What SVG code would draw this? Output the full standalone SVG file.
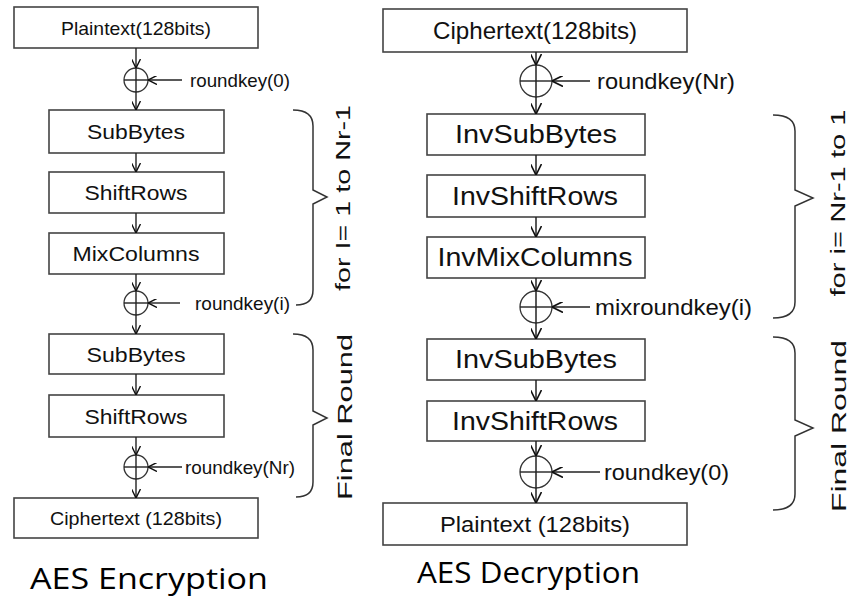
<svg xmlns="http://www.w3.org/2000/svg" width="852" height="597" viewBox="0 0 852 597">
<defs>
<marker id="a" viewBox="0 0 10 10" refX="10" refY="5" markerWidth="9" markerHeight="9" markerUnits="userSpaceOnUse" orient="auto"><path d="M0,0 L10,5 L0,10" fill="none" stroke="#111" stroke-width="1.6"/></marker>
<marker id="b" viewBox="0 0 10 10" refX="10" refY="5" markerWidth="11" markerHeight="11" markerUnits="userSpaceOnUse" orient="auto"><path d="M0,0 L10,5 L0,10" fill="none" stroke="#111" stroke-width="1.5"/></marker>
</defs>
<style>
.box{fill:#fff;stroke:#444;stroke-width:1.6}
.t{font-family:"Liberation Sans",Arial,sans-serif;fill:#111;text-anchor:middle}
.l{font-size:21px}
.r{font-size:25px}
.k{font-family:"Liberation Sans",Arial,sans-serif;fill:#111}
.kl{font-size:19px}
.kr{font-size:22px}
.c{stroke:#222;stroke-width:1.4;fill:none}
.ca{stroke:#222;stroke-width:1.4;fill:none;marker-end:url(#a)}
.cb{stroke:#222;stroke-width:1.5;fill:none;marker-end:url(#b)}
.xor{fill:none;stroke:#333;stroke-width:1.3}
.br{fill:none;stroke:#333;stroke-width:1.5}
.rot{font-family:"Liberation Sans",Arial,sans-serif;fill:#111;text-anchor:middle;font-size:21px}
.title{font-family:"Open Sans","Noto Sans",sans-serif;fill:#000;font-size:29px}
</style>

<!-- Encryption -->
<g id="enc-plaintext"><rect class="box" x="14" y="7" width="244" height="41"/><text class="t" x="136" y="35" style="font-size:19px" textLength="150" lengthAdjust="spacingAndGlyphs">Plaintext(128bits)</text></g>
<g id="enc-xor0"><circle class="xor" cx="136" cy="80" r="12"/><line class="c" x1="124" y1="80" x2="148" y2="80"/><text class="k kl" x="190" y="87" textLength="100" lengthAdjust="spacingAndGlyphs">roundkey(0)</text></g>
<g id="enc-subbytes1"><rect class="box" x="49" y="110" width="175" height="43"/><text class="t l" x="136" y="139" textLength="98" lengthAdjust="spacingAndGlyphs">SubBytes</text></g>
<g id="enc-shiftrows1"><rect class="box" x="49" y="172" width="175" height="41"/><text class="t l" x="136" y="200" textLength="103" lengthAdjust="spacingAndGlyphs">ShiftRows</text></g>
<g id="enc-mixcolumns"><rect class="box" x="49" y="233" width="175" height="41"/><text class="t l" x="136" y="261" textLength="127" lengthAdjust="spacingAndGlyphs">MixColumns</text></g>
<g id="enc-xori"><circle class="xor" cx="136" cy="303" r="12"/><line class="c" x1="124" y1="303" x2="148" y2="303"/><text class="k kl" x="195" y="310" textLength="95" lengthAdjust="spacingAndGlyphs">roundkey(i)</text></g>
<g id="enc-subbytes2"><rect class="box" x="49" y="334" width="175" height="40"/><text class="t l" x="136" y="362" textLength="99" lengthAdjust="spacingAndGlyphs">SubBytes</text></g>
<g id="enc-shiftrows2"><rect class="box" x="49" y="395" width="175" height="42"/><text class="t l" x="136" y="424" textLength="103" lengthAdjust="spacingAndGlyphs">ShiftRows</text></g>
<g id="enc-xornr"><circle class="xor" cx="136" cy="467" r="12"/><line class="c" x1="124" y1="467" x2="148" y2="467"/><text class="k kl" x="185" y="474" textLength="110" lengthAdjust="spacingAndGlyphs">roundkey(Nr)</text></g>
<g id="enc-ciphertext"><rect class="box" x="14" y="498" width="244" height="40"/><text class="t" x="136" y="525" style="font-size:19px" textLength="172" lengthAdjust="spacingAndGlyphs">Ciphertext (128bits)</text></g>
<g id="enc-brace1"><path class="br" d="M293,110 Q313,110 313,126 L313,190 L327,197 L313,204 L313,290 Q313,305 296,305"/><text class="rot" transform="translate(350,198) rotate(-90)" textLength="186" lengthAdjust="spacingAndGlyphs">for I= 1 to Nr-1</text></g>
<g id="enc-brace2"><path class="br" d="M293,334 Q313,334 313,350 L313,411 L327,418 L313,425 L313,482 Q313,497 296,497"/><text class="rot" transform="translate(352,417) rotate(-90)" textLength="166" lengthAdjust="spacingAndGlyphs">Final Round</text></g>
<text id="enc-title" class="title" x="30" y="589" textLength="238" lengthAdjust="spacingAndGlyphs">AES Encryption</text>

<!-- Decryption -->
<g id="dec-ciphertext"><rect class="box" x="383" y="9" width="304" height="43"/><text class="t" x="535" y="39" style="font-size:24px" textLength="204" lengthAdjust="spacingAndGlyphs">Ciphertext(128bits)</text></g>
<g id="dec-xornr"><circle class="xor" cx="536" cy="81" r="16"/><line class="c" x1="520" y1="81" x2="552" y2="81"/><text class="k kr" x="597" y="89" textLength="138" lengthAdjust="spacingAndGlyphs">roundkey(Nr)</text></g>
<g id="dec-invsubbytes1"><rect class="box" x="427" y="114" width="218" height="41"/><text class="t r" x="536" y="143" textLength="162" lengthAdjust="spacingAndGlyphs">InvSubBytes</text></g>
<g id="dec-invshiftrows1"><rect class="box" x="427" y="175" width="218" height="42"/><text class="t r" x="535" y="205" textLength="166" lengthAdjust="spacingAndGlyphs">InvShiftRows</text></g>
<g id="dec-invmixcolumns"><rect class="box" x="427" y="237" width="218" height="41"/><text class="t r" x="535" y="266" textLength="195" lengthAdjust="spacingAndGlyphs">InvMixColumns</text></g>
<g id="dec-xori"><circle class="xor" cx="536" cy="307" r="16"/><line class="c" x1="520" y1="307" x2="552" y2="307"/><text class="k kr" x="595" y="315" textLength="157" lengthAdjust="spacingAndGlyphs">mixroundkey(i)</text></g>
<g id="dec-invsubbytes2"><rect class="box" x="427" y="339" width="218" height="41"/><text class="t r" x="536" y="368" textLength="162" lengthAdjust="spacingAndGlyphs">InvSubBytes</text></g>
<g id="dec-invshiftrows2"><rect class="box" x="427" y="401" width="218" height="40"/><text class="t r" x="535" y="430" textLength="166" lengthAdjust="spacingAndGlyphs">InvShiftRows</text></g>
<g id="dec-xor0"><circle class="xor" cx="536" cy="472" r="16"/><line class="c" x1="520" y1="472" x2="552" y2="472"/><text class="k kr" x="604" y="480" textLength="125" lengthAdjust="spacingAndGlyphs">roundkey(0)</text></g>
<g id="dec-plaintext"><rect class="box" x="383" y="503" width="304" height="42"/><text class="t" x="535" y="532" style="font-size:22px" textLength="190" lengthAdjust="spacingAndGlyphs">Plaintext (128bits)</text></g>
<g id="dec-brace1"><path class="br" d="M773,115 Q795,115 795,131 L795,190 L813,198 L795,206 L795,302 Q795,318 773,318"/><text class="rot" transform="translate(845,203) rotate(-90)" textLength="187" lengthAdjust="spacingAndGlyphs">for i= Nr-1 to 1</text></g>
<g id="dec-brace2"><path class="br" d="M773,337 Q795,337 795,353 L795,420 L813,428 L795,436 L795,494 Q795,510 773,510"/><text class="rot" transform="translate(846,426) rotate(-90)" textLength="172" lengthAdjust="spacingAndGlyphs">Final Round</text></g>
<text id="dec-title" class="title" x="417" y="583" textLength="223" lengthAdjust="spacingAndGlyphs">AES Decryption</text>

<g id="connectors">
<line class="ca" x1="136" y1="48" x2="136" y2="68"/>
<line class="ca" x1="136" y1="68" x2="136" y2="110"/>
<line class="ca" x1="182" y1="80" x2="148" y2="80"/>
<line class="ca" x1="136" y1="153" x2="136" y2="172"/>
<line class="ca" x1="136" y1="213" x2="136" y2="233"/>
<line class="ca" x1="136" y1="274" x2="136" y2="291"/>
<line class="ca" x1="136" y1="291" x2="136" y2="334"/>
<line class="ca" x1="180" y1="303" x2="148" y2="303"/>
<line class="ca" x1="136" y1="374" x2="136" y2="395"/>
<line class="ca" x1="136" y1="437" x2="136" y2="455"/>
<line class="ca" x1="136" y1="455" x2="136" y2="498"/>
<line class="ca" x1="182" y1="467" x2="148" y2="467"/>

<line class="cb" x1="536" y1="52" x2="536" y2="65"/>
<line class="cb" x1="536" y1="65" x2="536" y2="114"/>
<line class="cb" x1="590" y1="81" x2="552" y2="81"/>
<line class="cb" x1="536" y1="155" x2="536" y2="175"/>
<line class="cb" x1="536" y1="217" x2="536" y2="237"/>
<line class="cb" x1="536" y1="278" x2="536" y2="291"/>
<line class="cb" x1="536" y1="291" x2="536" y2="339"/>
<line class="cb" x1="590" y1="307" x2="552" y2="307"/>
<line class="cb" x1="536" y1="380" x2="536" y2="401"/>
<line class="cb" x1="536" y1="441" x2="536" y2="456"/>
<line class="cb" x1="536" y1="456" x2="536" y2="503"/>
<line class="cb" x1="600" y1="472" x2="552" y2="472"/>
</g>
</svg>
